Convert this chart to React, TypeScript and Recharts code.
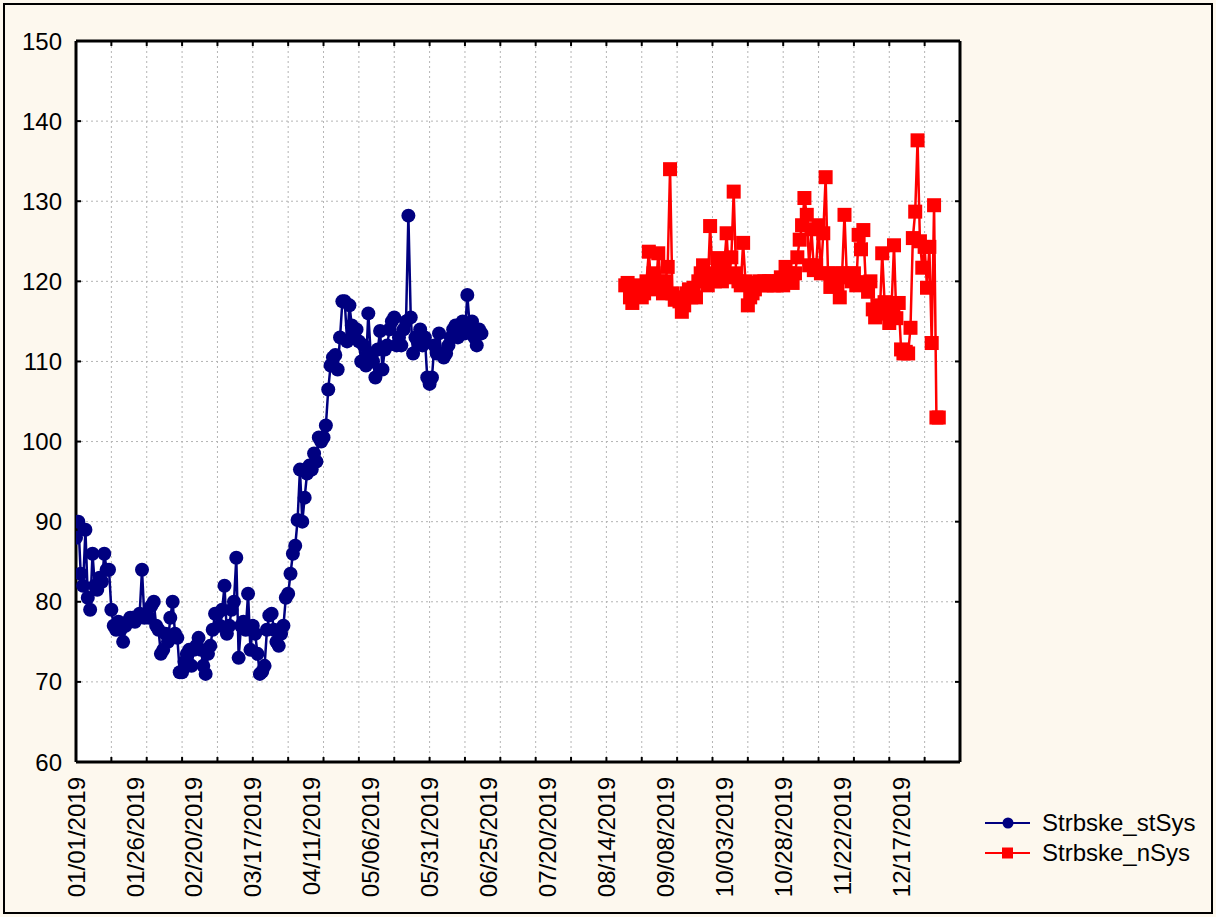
import React from 'react'
import { CartesianGrid, Line, LineChart, XAxis, YAxis } from 'recharts'

document.body.style.margin = '0'

const FONT = '"Liberation Sans", Arial, sans-serif'
const START = Date.UTC(2019, 0, 1)
const DAY_MS = 86400000

// x positions are days counted from 01/01/2019
const labelDays = [0, 25, 50, 75, 100, 125, 150, 175, 200, 225, 250, 275, 300, 325, 350]
const gridDays = [
	0, 15, 30, 45, 60, 75, 90, 105, 120, 135, 150, 165, 180, 195, 210, 225, 240, 255, 270,
	285, 300, 315, 330, 345, 360, 375,
]
const yTicks = [60, 70, 80, 90, 100, 110, 120, 130, 140, 150]

// Strbske_stSys, daily from 01/01/2019
const stSysValues = [
	88, 90, 83.5, 82, 89, 80.5, 79, 86, 82, 81.5, 83, 82.5, 86, 84, 84, 79, 77, 76.5, 77.5,
	76.5, 75, 77, 77.5, 78, 78, 77.5, 78, 78.5, 84, 78, 78.5, 78, 79.5, 80, 77, 76.5, 73.5,
	74, 76, 75, 78, 80, 76, 75.5, 71.2, 71.2, 72.5, 73.5, 74, 72, 74, 74.5, 75.5, 74, 72, 71,
	73.5, 74.5, 76.5, 78.5, 78.5, 77, 79, 82, 76, 77, 79, 80, 85.5, 73, 77, 77.5, 76.5, 81,
	74, 77, 76, 73.5, 71, 71.3, 72, 76.5, 78.3, 78.5, 76.5, 75, 74.5, 76, 77, 80.5, 81, 83.5,
	86, 87, 90.2, 96.5, 90, 93, 96, 97, 96.5, 98.5, 97.5, 100.5, 100, 100.5, 102, 106.5,
	109.5, 110.5, 110.8, 109, 113, 117.5, 117.5, 112.5, 117, 114.5, 113.5, 114, 112.5, 110,
	112, 109.5, 116, 111, 110, 108, 111.5, 113.8, 109, 111.5, 112, 114, 115, 115.5, 112, 113,
	112, 114, 115, 128.2, 115.5, 111, 113, 112.5, 114, 112, 113, 108, 107.2, 108, 112, 111,
	113.5, 111, 110.5, 111, 112, 113, 114, 114.5, 113, 114, 115, 113.5, 118.3, 114.5, 115, 113,
	112, 114, 113.5,
]

// Strbske_nSys, daily from day 233 (08/22/2019)
const nSysStart = 233
const nSysValues = [
	119.5, 119.8, 118, 117.3, 119, 118.5, 119.5, 118, 118.5, 120, 123.7, 119.5, 121, 119, 123.5,
	120, 118.5, 120, 121.8, 134, 118.5, 117.7, 118, 117.5, 116.2, 117, 118.5, 119, 118, 119.2,
	118, 120, 121, 122, 120.5, 119.5, 126.9, 121, 120, 122.9, 121.5, 120, 122, 126, 120.5, 123,
	131.2, 121, 120, 119.5, 124.8, 120, 117, 118, 118.5, 119, 119.8, 120, 119.5, 120, 119.5,
	120, 120, 119.5, 119.5, 120, 120.5, 119.5, 121.8, 121, 120, 119.8, 121, 123, 125.2, 127,
	130.4, 128.3, 122, 126.5, 121.4, 122, 127, 121, 126, 133, 121, 119.3, 120.5, 121, 119.5,
	118, 121, 128.3, 120.5, 121, 120, 121, 119.5, 125.8, 124, 126.4, 119.9, 118.7, 120, 116.5,
	115.5, 117, 116, 123.5, 117.4, 116, 114.8, 117, 124.5, 115.4, 117.3, 111.5, 111, 111.2, 111,
	114.2, 125.4, 128.7, 137.6, 125, 121.7, 124.3, 119.2, 124.3, 112.3, 129.5, 103, 103,
]

const stSysData = stSysValues.map((value, i) => ({ day: i, value }))
const nSysData = nSysValues.map((value, i) => ({ day: nSysStart + i, value }))

const NAVY = '#000080'
const RED = '#ff0000'

const pad = (n: number) => String(n).padStart(2, '0')
const formatDay = (day: number) => {
	const d = new Date(START + day * DAY_MS)
	return `${pad(d.getUTCMonth() + 1)}/${pad(d.getUTCDate())}/${d.getUTCFullYear()}`
}

const DateTick = ({ x, y, payload }: any) => (
	<text
		x={x}
		y={y}
		transform={`rotate(-90 ${x} ${y})`}
		textAnchor='end'
		dy='0.36em'
		fontSize={24}
		fontFamily={FONT}
		fill='#000'
	>
		{formatDay(payload.value)}
	</text>
)

const NoLabel = () => <g />

const frameAxis = { stroke: '#000', strokeWidth: 3 }
const frameTick = { stroke: '#000', strokeWidth: 2 }

const LegendRow = ({ color, square, label }: { color: string; square?: boolean; label: string }) => (
	<div style={{ display: 'flex', alignItems: 'center', height: 30 }}>
		<svg width={50} height={20} style={{ marginRight: 7 }}>
			<line x1={0} y1={10} x2={45} y2={10} stroke={color} strokeWidth={2} />
			{square ? (
				<rect x={17} y={4.5} width={11} height={11} fill={color} />
			) : (
				<circle cx={23} cy={10} r={5.5} fill={color} />
			)}
		</svg>
		<span>{label}</span>
	</div>
)

export default function App() {
	return (
		<div
			style={{
				position: 'relative',
				width: 1216,
				height: 917,
				background: '#fdf8ee',
				fontFamily: FONT,
			}}
		>
			<LineChart width={1216} height={917} margin={{ top: 41, right: 256, bottom: 15, left: 6 }}>
				<CartesianGrid
					xAxisId='grid'
					yAxisId='y'
					stroke='#b4b4b4'
					strokeDasharray='2 3'
					fill='#ffffff'
					fillOpacity={1}
				/>
				<XAxis
					xAxisId='lab'
					type='number'
					dataKey='day'
					domain={[0, 375]}
					allowDataOverflow
					ticks={labelDays}
					interval={0}
					height={140}
					tickSize={0}
					tickMargin={15}
					tickLine={false}
					axisLine={false}
					tick={<DateTick />}
				/>
				<XAxis
					xAxisId='grid'
					type='number'
					dataKey='day'
					domain={[0, 375]}
					allowDataOverflow
					ticks={gridDays}
					interval={0}
					mirror
					height={1}
					tickSize={5}
					tick={<NoLabel />}
					tickLine={frameTick}
					axisLine={frameAxis}
				/>
				<XAxis
					xAxisId='top'
					orientation='top'
					type='number'
					dataKey='day'
					domain={[0, 375]}
					allowDataOverflow
					ticks={gridDays}
					interval={0}
					mirror
					height={1}
					tickSize={5}
					tick={<NoLabel />}
					tickLine={frameTick}
					axisLine={frameAxis}
				/>
				<YAxis
					yAxisId='y'
					type='number'
					domain={[60, 150]}
					allowDataOverflow
					ticks={yTicks}
					interval={0}
					width={70}
					tickSize={0}
					tickMargin={14}
					tickLine={false}
					axisLine={false}
					tick={{ fontSize: 24, fill: '#000', fontFamily: FONT }}
				/>
				<YAxis
					yAxisId='ym'
					type='number'
					domain={[60, 150]}
					allowDataOverflow
					ticks={yTicks}
					interval={0}
					mirror
					width={1}
					tickSize={5}
					tick={<NoLabel />}
					tickLine={frameTick}
					axisLine={frameAxis}
				/>
				<YAxis
					yAxisId='yr'
					orientation='right'
					type='number'
					domain={[60, 150]}
					allowDataOverflow
					ticks={yTicks}
					interval={0}
					mirror
					width={1}
					tickSize={5}
					tick={<NoLabel />}
					tickLine={frameTick}
					axisLine={frameAxis}
				/>
				<Line
					xAxisId='lab'
					yAxisId='y'
					data={stSysData}
					dataKey='value'
					name='Strbske_stSys'
					type='linear'
					stroke={NAVY}
					strokeWidth={2.5}
					dot={(p: any) => <circle key={`s${p.index}`} cx={p.cx} cy={p.cy} r={7} fill={NAVY} />}
					activeDot={false}
					isAnimationActive={false}
				/>
				<Line
					xAxisId='lab'
					yAxisId='y'
					data={nSysData}
					dataKey='value'
					name='Strbske_nSys'
					type='linear'
					stroke={RED}
					strokeWidth={2.5}
					dot={(p: any) => (
						<rect key={`n${p.index}`} x={p.cx - 7} y={p.cy - 7} width={14} height={14} fill={RED} />
					)}
					activeDot={false}
					isAnimationActive={false}
				/>
			</LineChart>
			<div style={{ position: 'absolute', left: 985, top: 808, fontSize: 24, color: '#000' }}>
				<LegendRow color={NAVY} label='Strbske_stSys' />
				<LegendRow color={RED} square label='Strbske_nSys' />
			</div>
			<div
				style={{
					position: 'absolute',
					left: 3,
					top: 3,
					width: 1206,
					height: 907,
					border: '2px solid #000',
					pointerEvents: 'none',
				}}
			/>
		</div>
	)
}
